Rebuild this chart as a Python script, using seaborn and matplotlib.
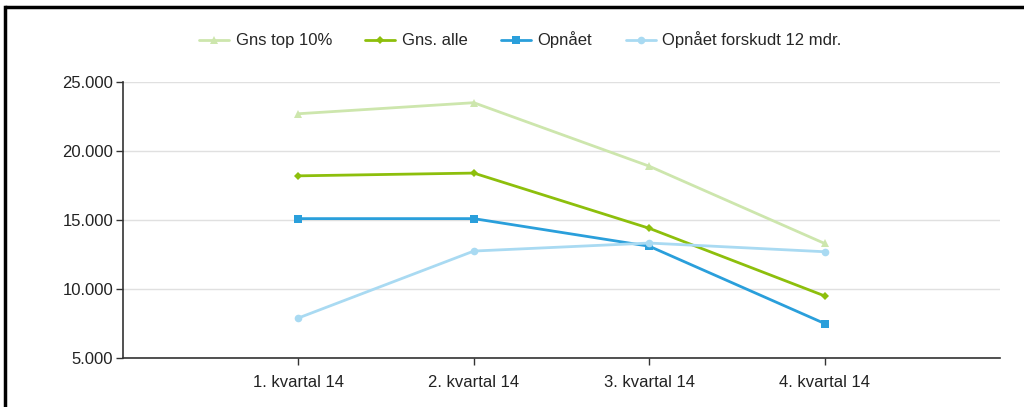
import matplotlib
matplotlib.use("Agg")
import matplotlib.pyplot as plt
import matplotlib.ticker as mticker
from matplotlib.lines import Line2D
import seaborn as sns
import pandas as pd

# data
quarters = ['1. kvartal 14', '2. kvartal 14', '3. kvartal 14', '4. kvartal 14']
gns_top10 = [22700, 23500, 18900, 13300]
gns_alle = [18200, 18400, 14400, 9500]
opnaaet = [15100, 15100, 13100, 7500]
opnaaet_forskudt = [7900, 12750, 13330, 12700]

series_names = ['Gns top 10%', 'Gns. alle', 'Opnået', 'Opnået forskudt 12 mdr.']
series_vals = [gns_top10, gns_alle, opnaaet, opnaaet_forskudt]

colors = {
    'Gns top 10%': '#cde6ad',
    'Gns. alle': '#8dbf0c',
    'Opnået': '#2a9fdb',
    'Opnået forskudt 12 mdr.': '#a9daf2',
}
markers = {
    'Gns top 10%': '^',
    'Gns. alle': 'D',
    'Opnået': 's',
    'Opnået forskudt 12 mdr.': 'o',
}
msizes = {'Gns top 10%': 6, 'Gns. alle': 4.5, 'Opnået': 6, 'Opnået forskudt 12 mdr.': 5.5}

rows = []
for name, vals in zip(series_names, series_vals):
    for i, v in enumerate(vals):
        rows.append({'serie': name, 'pos': i + 1, 'value': v})
df = pd.DataFrame(rows)

sns.set_theme(style='white')
plt.rcParams['font.family'] = ['Liberation Sans', 'DejaVu Sans']

fig = plt.figure(figsize=(10.24, 4.07), dpi=100)
ax = fig.add_axes([123 / 1024, 49 / 407, 877 / 1024, 276 / 407])

for name in series_names:
    sub = df[df['serie'] == name]
    sns.lineplot(data=sub, x='pos', y='value', ax=ax, color=colors[name],
                 marker=markers[name], markersize=msizes[name],
                 markeredgewidth=0, linewidth=2.0, label=name)

ax.set_xlim(0, 5)
ax.set_ylim(5000, 25000)
ax.set_xticks(range(1, len(quarters) + 1))
ax.set_xticklabels(quarters)
ax.set_yticks([5000, 10000, 15000, 20000, 25000])
ax.yaxis.set_major_formatter(mticker.FuncFormatter(lambda x, _: f'{x:,.0f}'.replace(',', '.')))
ax.set_xlabel('')
ax.set_ylabel('')

ax.grid(axis='y', color='#e0e0e0', linewidth=1)
ax.set_axisbelow(True)
for s in ['top', 'right']:
    ax.spines[s].set_visible(False)
for s in ['left', 'bottom']:
    ax.spines[s].set_color('#333333')
    ax.spines[s].set_linewidth(1.2)
ax.tick_params(axis='both', which='major', length=5, width=1, color='#333333',
               labelsize=12, labelcolor='#222222', direction='out', left=True, bottom=True)
ax.tick_params(axis='y', pad=2)
ax.tick_params(axis='x', pad=7)

ax.legend(loc='center', bbox_to_anchor=(0.508, 1 - 40 / 407), bbox_transform=fig.transFigure,
          ncol=4, frameon=False, fontsize=12, handlelength=1.8, columnspacing=2.0,
          handletextpad=0.4)

# outer frame (top and left edges are visible in the crop)
fig.add_artist(Line2D([5 / 1024, 5 / 1024], [0, 1 - 7 / 407], color='black', linewidth=2.5,
                      solid_capstyle='projecting', transform=fig.transFigure))
fig.add_artist(Line2D([5 / 1024, 1.01], [1 - 7 / 407, 1 - 7 / 407], color='black', linewidth=2.5,
                      solid_capstyle='butt', transform=fig.transFigure))

fig.savefig('out.png', dpi=100)
